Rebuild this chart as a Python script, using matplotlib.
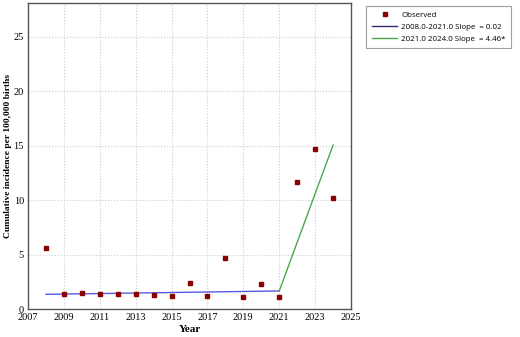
import matplotlib
matplotlib.use("Agg")
import matplotlib.pyplot as plt

years = [2008, 2009, 2010, 2011, 2012, 2013, 2014, 2015, 2016, 2017, 2018, 2019, 2020, 2021, 2022, 2023, 2024]
observed = [5.58, 1.38, 1.47, 1.41, 1.35, 1.35, 1.29, 1.22, 2.39, 1.16, 4.66, 1.13, 2.30, 1.13, 11.7, 14.7, 10.17]
seg1_x = [2008, 2021]
seg1_y = [1.35, 1.66]
seg2_x = [2021, 2024]
seg2_y = [1.66, 15.05]
xticks = [2007, 2009, 2011, 2013, 2015, 2017, 2019, 2021, 2023, 2025]
yticks = [0, 5, 10, 15, 20, 25]

fig = plt.figure(figsize=(5.2, 3.37), dpi=100)
ax = fig.add_axes([0.054, 0.083, 0.621, 0.908])

serif = ['Liberation Serif', 'DejaVu Serif']
sans = ['Open Sans', 'DejaVu Sans']

ax.plot(years, observed, linestyle='none', marker='s', markersize=3.2,
        color='#8b0000', label='Observed', zorder=3)
ax.plot(seg1_x, seg1_y, color='#5a5ae0', linewidth=1.0, zorder=2)
ax.plot(seg2_x, seg2_y, color='#4aa84a', linewidth=1.0, zorder=2)

# legend proxies
h1, = ax.plot([], [], color='#30306e', linewidth=1.0, label='2008.0-2021.0 Slope  = 0.02')
h2, = ax.plot([], [], color='#4aa84a', linewidth=1.0, label='2021.0 2024.0 Slope  = 4.46*')

ax.set_xlim(2007, 2025)
ax.set_ylim(0, 28.1)
ax.set_xticks(xticks)
ax.set_yticks(yticks)
ax.set_xticklabels([str(t) for t in xticks], family=serif, fontsize=7.5)
ax.set_yticklabels([str(t) for t in yticks], family=serif, fontsize=7.5)
ax.tick_params(length=0, pad=3)
ax.grid(True, color='#cccccc', linestyle=':', linewidth=0.8)
ax.set_axisbelow(True)
for s in ax.spines.values():
    s.set_color('#555555')
    s.set_linewidth(1.0)

ax.set_xlabel('Year', family=serif, fontsize=8, fontweight='bold', labelpad=2)
ax.set_ylabel('Cumulative incidence per 100,000 births', family=serif, fontsize=6.8,
              fontweight='bold')
ax.yaxis.set_label_coords(-0.05, 0.5)

leg = fig.legend(handles=ax.get_legend_handles_labels()[0],
                 loc='upper left', bbox_to_anchor=(0.697, 0.994),
                 prop={'family': sans, 'size': 5.7}, frameon=True, fancybox=False,
                 edgecolor='#888888', handlelength=3.2, borderpad=0.7,
                 labelspacing=0.55, handletextpad=0.5, numpoints=1, markerscale=0.8)
leg.get_frame().set_linewidth(0.8)

fig.savefig('out.png', dpi=100)
